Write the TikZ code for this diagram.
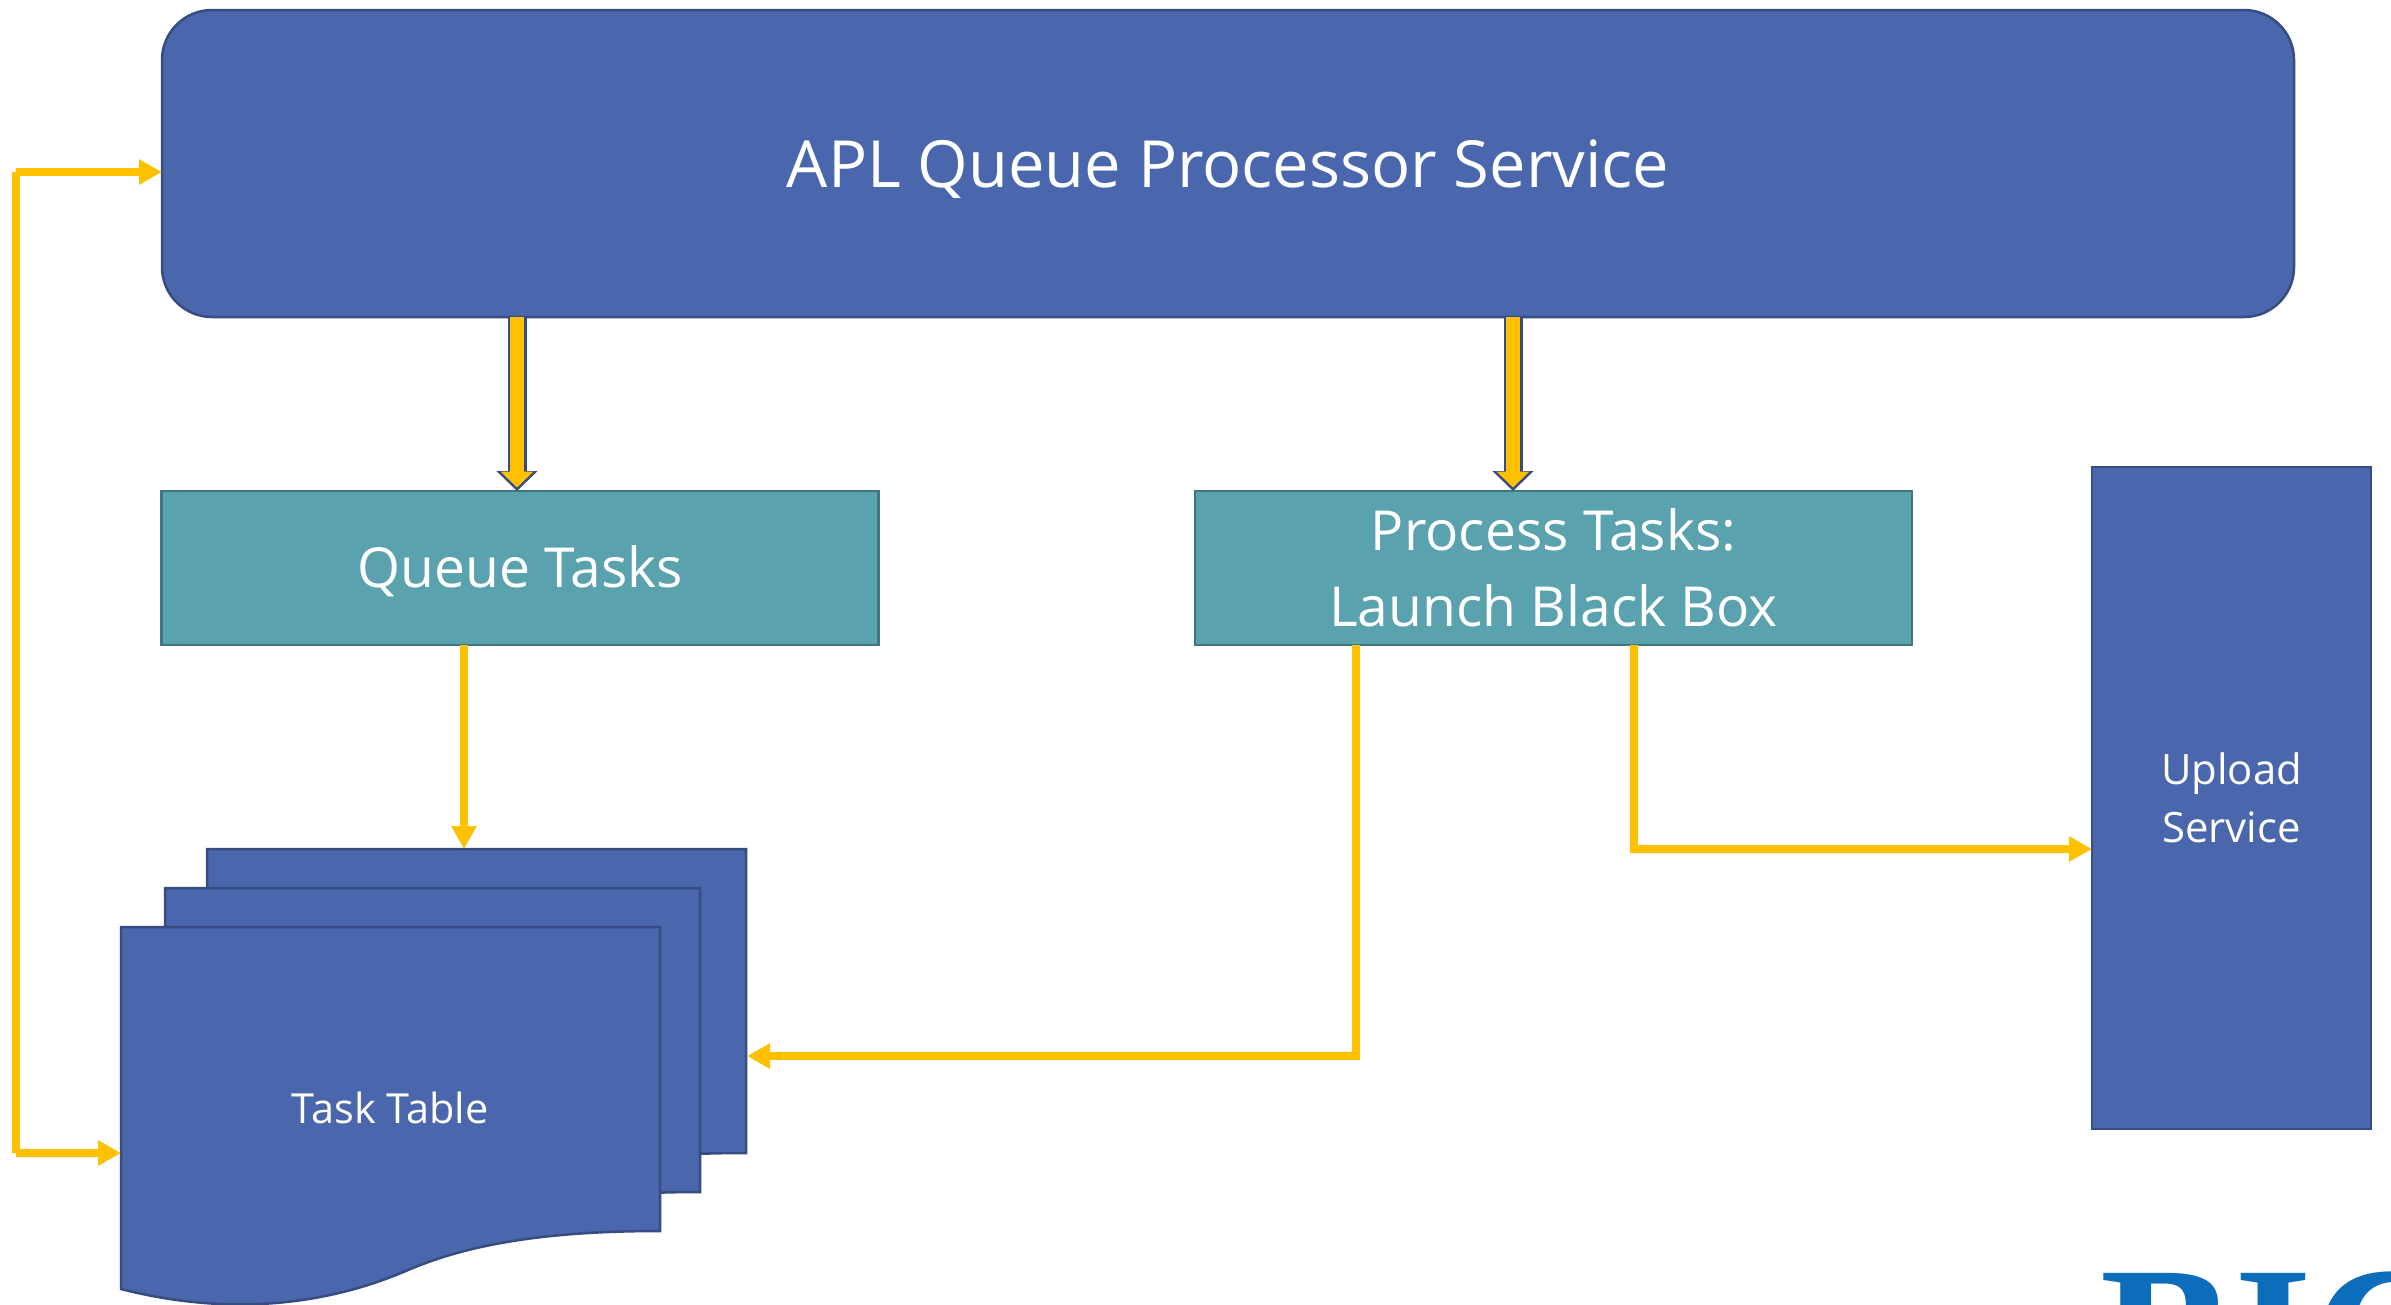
\documentclass[tikz,border=0pt]{standalone}
\usepackage{fontspec}
\setmainfont{Open Sans}
\newfontfamily\logofont{Liberation Serif}
\usetikzlibrary{arrows.meta}
\definecolor{boxblue}{HTML}{4A66AC}
\definecolor{boxline}{HTML}{374C80}
\definecolor{taskteal}{HTML}{5AA2AE}
\definecolor{taskline}{HTML}{42767F}
\definecolor{flowgold}{HTML}{FFC000}
\definecolor{logoblue}{HTML}{0B6DBB}

\begin{document}
\begin{tikzpicture}
    \tikzstyle{box}=[draw=boxline,fill=boxblue,text=white,line width=0.025cm,inner sep=0pt,outer sep=0pt,align=center]
    \tikzstyle{service}=[box,rounded corners=0.5cm,minimum width=21.32cm,minimum height=3.07cm]
    \tikzstyle{task}=[box,draw=taskline,fill=taskteal,minimum width=7.17cm,minimum height=1.54cm]
    \tikzstyle{flow}=[draw=flowgold,line width=0.08cm,-{Triangle[length=0.23cm,width=0.24cm]}]
    \tikzstyle{flat}=[draw=flowgold,line width=0.08cm]
    \tikzstyle{fat outer}=[draw=boxline,line width=0.19cm,-{Triangle[length=0.2cm,width=0.4cm]}]
    \tikzstyle{fat inner}=[draw=flowgold,line width=0.145cm,shorten >=0.035cm,-{Triangle[length=0.16cm,width=0.32cm]}]

    \useasboundingbox (0,0) rectangle (23.91,-13.04);

    \node[service,text height=0.47cm,text depth=0pt,font=\fontsize{18.5}{23}\selectfont] (Service) at (12.28,-1.635) {APL Queue Processor Service};
    \node[task,text height=0.395cm,text depth=0pt,font=\fontsize{15.7}{21.6}\selectfont] (Queue) at (5.2,-5.68) {Queue Tasks};
    \node[task,font=\fontsize{15.7}{21.6}\selectfont] (Process) at (15.535,-5.68) {Process Tasks:\\Launch Black Box};
    \node[box,minimum width=2.79cm,minimum height=6.62cm,font=\fontsize{11.9}{16.5}\selectfont] (Upload) at (22.315,-7.98)
        {Upload\\Service};

    % Stacked pages
    \foreach \x/\y/\s in {2.07/-8.49/1,1.65/-8.88/0.993,1.21/-9.27/1}
        \draw[draw=boxline,fill=boxblue,line width=0.025cm,shift={(\x,\y)},xscale=\s]
            (0,0) -- (5.39,0) -- (5.39,-3.04)
            .. controls (4.3,-3.04) and (3.5,-3.16) .. (2.87,-3.43)
            .. controls (1.9,-3.85) and (0.9,-3.85) .. (0,-3.62) -- cycle;
    \node[text=white,inner sep=0pt,font=\fontsize{11.8}{15}\selectfont] (Table) at (3.9,-11.08) {Task Table};

    \coordinate (Table-top) at (4.64,-8.49);
    \coordinate (Table-left) at (1.21,-11.53);
    \coordinate (Table-right) at (7.47,-10.56);
    \coordinate (Loop-top) at (0.16,-1.72);
    \coordinate (Loop-bottom) at (0.16,-11.53);
    \coordinate (Turn-left) at (13.56,-10.56);
    \coordinate (Turn-right) at (16.34,-8.49);

    % Service to tasks
    \foreach \x/\to in {5.17/Queue,15.13/Process} {
        \draw[fat outer] (Service.south -| \x,0) -- (\to.north -| \x,0);
        \draw[fat inner] (Service.south -| \x,0) -- (\to.north -| \x,0);
    }

    % Task links
    \draw[flow] (Queue.south -| Table-top) -- (Table-top);
    \draw[flow] (Process.south -| Turn-left) -- (Turn-left) -- (Table-right);
    \draw[flow] (Process.south -| Turn-right) -- (Turn-right) -- (Upload.west |- Turn-right);

    % Feedback loop
    \draw[flat] (Loop-bottom) -- (Loop-top);
    \draw[flow] (Loop-top) -- (Service.west |- Loop-top);
    \draw[flow] (Loop-bottom) -- (Table-left);

    % Logo
    \node[text=logoblue,anchor=north west,inner sep=0pt,font=\logofont\bfseries\fontsize{57}{60}\selectfont] (Logo) at (21.0,-12.71) {BIC};
\end{tikzpicture}
\end{document}
